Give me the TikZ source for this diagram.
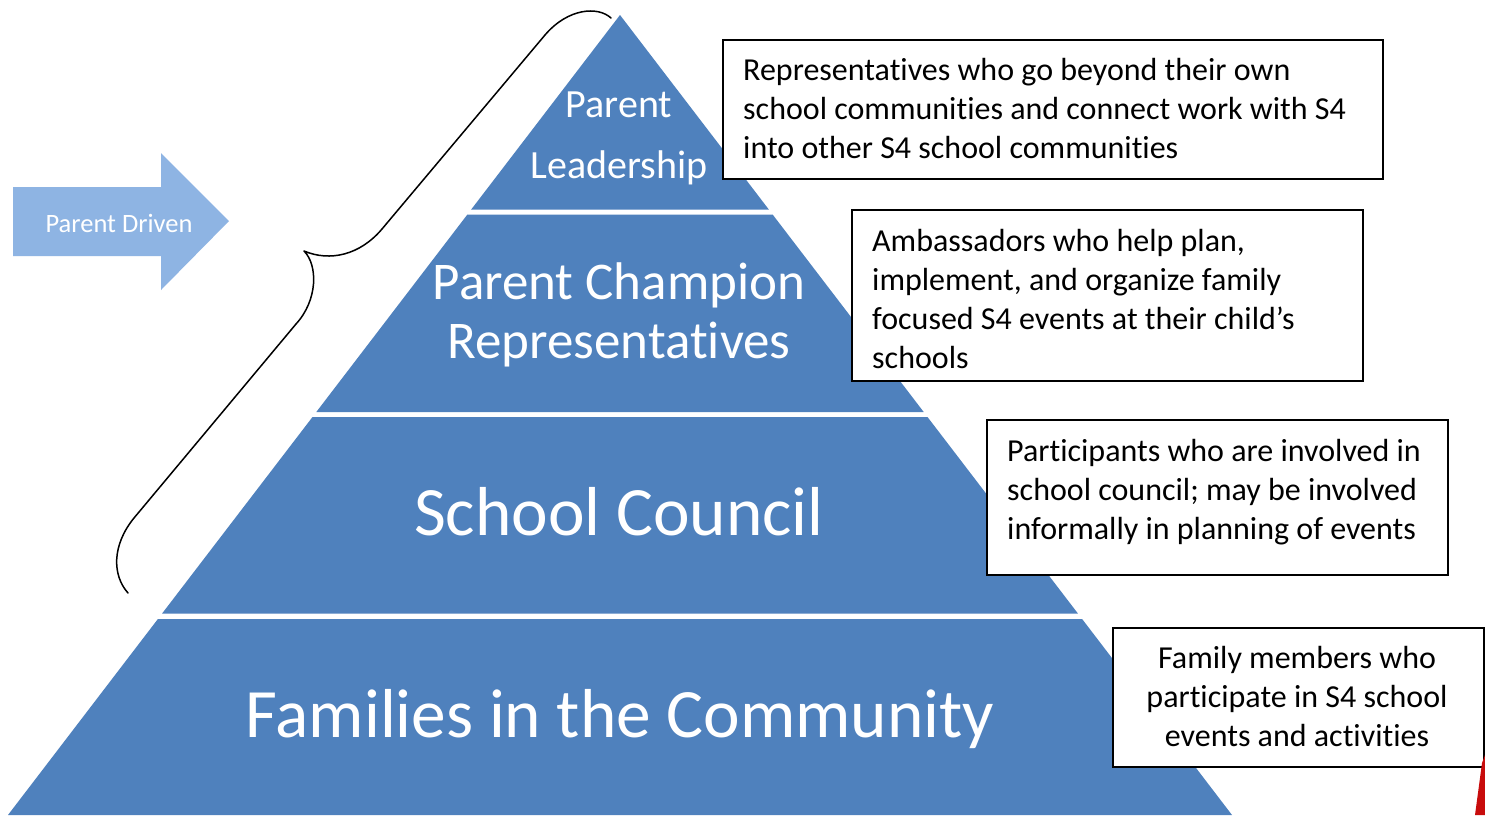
\documentclass[tikz,border=0pt]{standalone}
\usepackage{fontspec}
\setmainfont{Carlito}[Ligatures={NoCommon,NoContextual}, Contextuals={NoAlternate}]
\definecolor{pyr}{RGB}{79,129,189}
\definecolor{arrowc}{RGB}{142,180,227}
\definecolor{wedge}{RGB}{200,12,12}
\tikzset{
  band/.style={fill=pyr, draw=none},
  pyrtext/.style={text=white, inner sep=0pt, anchor=base},
  descbox/.style={draw=black, line width=1.5pt, fill=white, inner sep=0pt, anchor=north west},
  desctext/.style={text=black, inner sep=0pt, font=\fontsize{32}{39}\selectfont},
  bracestyle/.style={draw=black, line width=1.5pt, line cap=round, line join=round},
}
\begin{document}
\begin{tikzpicture}[x=1pt, y=-1pt]
\useasboundingbox (0,0) rectangle (1485,815);
\fill[white] (0,0) rectangle (1485,815);
% pyramid bands
\fill[band] (620,15) -- (768.8,209.5) -- (471.2,209.5) -- cycle;
\fill[band] (467.4,214.5) -- (772.6,214.5) -- (923.7,412) -- (316.3,412) -- cycle;
\fill[band] (312.5,417) -- (927.5,417) -- (1077.9,613.5) -- (162.1,613.5) -- cycle;
\fill[band] (157.9,619) -- (1082.1,619) -- (1232,815) -- (8,815) -- cycle;
% pyramid labels
\node[pyrtext, font=\fontsize{40}{48}\selectfont] (pl1) at (619,117) {Parent};
\node[pyrtext, font=\fontsize{40}{48}\selectfont] (pl2) at (619,178) {Leadership};
\node[pyrtext, font=\fontsize{53}{62}\selectfont] (pc1) at (619,299) {Parent Champion};
\node[pyrtext, font=\fontsize{53}{62}\selectfont] (pc2) at (619,358) {Representatives};
\node[pyrtext, font=\fontsize{69.3}{80}\selectfont] (sc) at (619,535) {School Council};
\node[pyrtext, font=\fontsize{69.3}{80}\selectfont] (fc) at (620,737) {Families in the Community};
% arrow
\fill[arrowc] (13,187) -- (161,187) -- (161,153) -- (229,221) -- (161,290) -- (161,256) -- (13,256) -- cycle;
\node[pyrtext, font=\fontsize{26.5}{30}\selectfont] (pd) at (119,232) {Parent Driven};
% brace
\draw[bracestyle] (611,18) .. controls (598,6) and (568,8) .. (545,35) -- (382,229)
  .. controls (360,255) and (330,262) .. (304,251)
  .. controls (318,265) and (318,300) .. (296,324) -- (134,518)
  .. controls (112,545) and (112,575) .. (128,593);
% description boxes
\node[descbox, minimum width=660pt, minimum height=139pt] (b1) at (722,39) {};
\foreach \t [count=\i] in {Representatives who go beyond their own, school communities and connect work with S4, into other S4 school communities}
  \node[desctext, anchor=base west] (b1l\i) at (743,{80+39*(\i-1)}) {\t};
\node[descbox, minimum width=511pt, minimum height=171pt] (b2) at (851,209) {};
\foreach \t [count=\i] in {{Ambassadors who help plan,}, {implement, and organize family}, focused S4 events at their child’s, schools}
  \node[desctext, anchor=base west] (b2l\i) at (872,{251+39*(\i-1)}) {\t};
\node[descbox, minimum width=461pt, minimum height=155pt] (b3) at (986,419) {};
\foreach \t [count=\i] in {Participants who are involved in, school council; may be involved, informally in planning of events}
  \node[desctext, anchor=base west] (b3l\i) at (1007,{461+39*(\i-1)}) {\t};
\node[descbox, minimum width=371pt, minimum height=139pt] (b4) at (1112,627) {};
\foreach \t [count=\i] in {Family members who, participate in S4 school, events and activities}
  \node[desctext, anchor=base] (b4l\i) at (1297,{668+39*(\i-1)}) {\t};
% red wedge at bottom right
\fill[wedge] (1482,763) -- (1485,755) -- (1485,815) -- (1475,815) -- cycle;
\end{tikzpicture}
\end{document}
